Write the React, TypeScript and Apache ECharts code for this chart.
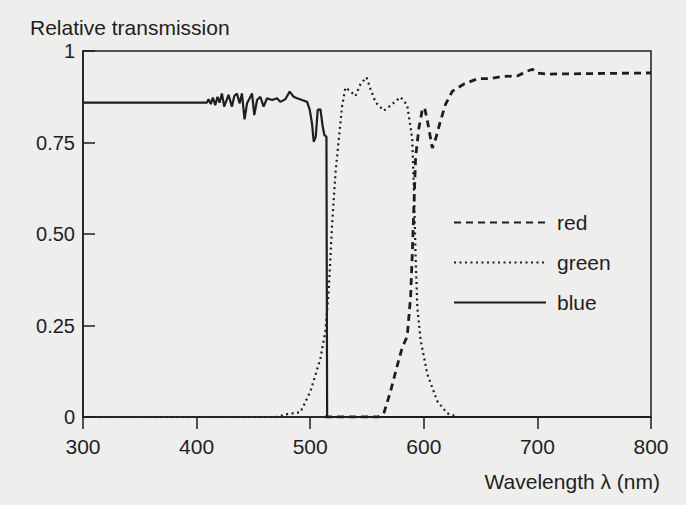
import React, { useEffect, useRef } from "react";
import * as echarts from "echarts";

// Wavelength (nm) / relative transmission pairs
const blueWl = [300, 409.1, 410.5, 412.5, 414.3, 416.4, 418.4, 420.2, 422.3, 424.3, 428.1, 431.1, 433.2, 435.5, 437.9, 439.9, 442.2, 444.4, 446.7, 448.8, 450.8, 453.2, 456.1, 459, 462, 466.4, 470.8, 473.7, 478.1, 481.9, 485.4, 488.4, 492.8, 497.3, 499.6, 501.6, 503.1, 504.9, 506.6, 509, 510.8, 512.5, 514.3, 514.9, 800];
const blueVal = [0.859, 0.859, 0.868, 0.855, 0.873, 0.852, 0.875, 0.859, 0.884, 0.848, 0.88, 0.848, 0.877, 0.884, 0.857, 0.884, 0.813, 0.857, 0.871, 0.884, 0.825, 0.866, 0.875, 0.848, 0.871, 0.866, 0.871, 0.861, 0.868, 0.889, 0.875, 0.871, 0.866, 0.861, 0.839, 0.802, 0.752, 0.766, 0.839, 0.841, 0.798, 0.77, 0.766, 0, 0];

const greenWl = [300, 470, 480, 491.4, 500.2, 509, 513.4, 516.3, 519.3, 522.2, 525.1, 528.1, 531, 535.4, 539.9, 544.3, 549.6, 553.1, 557.5, 564.8, 570.7, 579.5, 585.4, 589.8, 591.3, 592.8, 594.3, 597.2, 603.1, 611.9, 620.7, 630, 800];
const greenVal = [0, 0, 0.008, 0.013, 0.07, 0.16, 0.235, 0.345, 0.527, 0.665, 0.757, 0.85, 0.9, 0.89, 0.877, 0.91, 0.928, 0.896, 0.86, 0.837, 0.851, 0.874, 0.852, 0.76, 0.622, 0.437, 0.3, 0.21, 0.117, 0.043, 0.01, 0, 0];

const redWl = [513, 560, 564.8, 570.7, 576.6, 581, 585.4, 588.4, 589.8, 591.3, 592.8, 595.7, 598.7, 600.7, 603.1, 607.5, 610.4, 614.8, 619.2, 625.1, 635.4, 647.2, 659, 667.7, 682.4, 691, 695.7, 700, 709, 800];
const redVal = [0, 0, 0.01, 0.07, 0.14, 0.19, 0.22, 0.33, 0.44, 0.575, 0.71, 0.79, 0.84, 0.845, 0.81, 0.735, 0.76, 0.81, 0.855, 0.89, 0.91, 0.924, 0.925, 0.93, 0.932, 0.945, 0.95, 0.94, 0.937, 0.94];

const seriesNames = ["red", "green", "blue"];
const xTicks = [300, 400, 500, 600, 700, 800];
const yTicks = [0, 0.25, 0.5, 0.75, 1];

const zip = (a: number[], b: number[]) => a.map((x, i) => [x, b[i]]);

const INK = "#1e1e1e";
const FONT = "'Liberation Sans', Arial, Helvetica, sans-serif";

export default function App() {
  const ref = useRef<HTMLDivElement>(null);
  useEffect(() => {
    if (!ref.current) return;
    const chart = echarts.init(ref.current, null, { renderer: "svg" });
    chart.setOption({
      animation: false,
      backgroundColor: "#eeeeec",
      textStyle: { fontFamily: FONT, color: INK },
      title: {
        text: "Relative transmission",
        left: 25,
        top: 12,
        textStyle: { fontSize: 21, fontWeight: "normal", color: INK, fontFamily: FONT },
      },
      graphic: [
        {
          type: "text",
          right: 26,
          top: 471,
          style: { text: "Wavelength λ (nm)", fontSize: 21, fill: INK, fontFamily: FONT },
        },
      ],
      legend: {
        data: seriesNames,
        orient: "vertical",
        left: 448,
        top: 207,
        itemWidth: 92,
        itemHeight: 20,
        itemGap: 19,
        itemStyle: { opacity: 0 },
        textStyle: { fontSize: 21, color: INK, fontFamily: FONT, padding: [0, 0, 0, 6] },
      },
      grid: {
        left: 83,
        right: 35,
        top: 51,
        bottom: 88,
        show: true,
        borderColor: INK,
        borderWidth: 1.5,
        backgroundColor: "transparent",
      },
      xAxis: {
        type: "value",
        min: xTicks[0],
        max: xTicks[xTicks.length - 1],
        interval: 100,
        splitLine: { show: false },
        axisLine: { show: true, lineStyle: { color: INK, width: 1.5 } },
        axisTick: { show: true, inside: false, length: 12, lineStyle: { color: INK, width: 1.5 } },
        axisLabel: { fontSize: 21, color: INK, margin: 19, fontFamily: FONT },
      },
      yAxis: {
        type: "value",
        min: yTicks[0],
        max: yTicks[yTicks.length - 1],
        interval: 0.25,
        splitLine: { show: false },
        axisLine: { show: true, lineStyle: { color: INK, width: 1.5 } },
        axisTick: { show: true, inside: true, length: 12, lineStyle: { color: INK, width: 1.5 } },
        axisLabel: {
          fontSize: 20,
          color: INK,
          margin: 8,
          fontFamily: FONT,
          formatter: (v: number) => (v === 0 || v === 1 ? String(v) : v.toFixed(2)),
        },
      },
      series: [
        {
          name: "red",
          type: "line",
          data: zip(redWl, redVal),
          symbol: "none",
          color: INK,
          lineStyle: { color: INK, width: 2.8, type: [7, 5] },
        },
        {
          name: "green",
          type: "line",
          data: zip(greenWl, greenVal),
          symbol: "none",
          color: INK,
          lineStyle: { color: INK, width: 2.2, type: [2, 3.5] },
        },
        {
          name: "blue",
          type: "line",
          data: zip(blueWl, blueVal),
          symbol: "none",
          color: INK,
          lineStyle: { color: INK, width: 2.2 },
        },
      ],
    });
    return () => chart.dispose();
  }, []);
  return (
    <div
      ref={ref}
      style={{ position: "absolute", left: 0, top: 0, width: 686, height: 505 }}
    />
  );
}
